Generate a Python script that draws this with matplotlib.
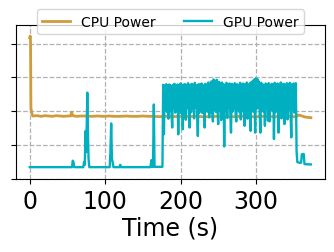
import matplotlib
matplotlib.use("Agg")
import matplotlib.pyplot as plt

# CPU power trace (time in s, power in W)
cpu_t = [0, 0.5, 1.0, 1.5, 2.5, 4, 10, 15, 20, 25, 30, 35, 40, 45, 50, 54,
         55.5, 57, 62, 68, 75, 82, 90, 97, 105, 112, 120, 128, 135, 143,
         150, 158, 165, 172, 180, 190, 200, 210, 220, 230, 240, 250, 260,
         270, 280, 290, 300, 310, 320, 330, 340, 348, 354, 356, 360, 365,
         369, 373]
cpu_w = [41.7, 42.2, 40.5, 21.0, 19.5, 18.6, 18.7, 18.5, 18.7, 18.6, 18.5,
         18.7, 18.6, 18.5, 18.6, 18.6, 19.7, 18.7, 18.5, 18.6, 18.6, 18.5,
         18.6, 18.5, 18.6, 18.5, 18.5, 18.6, 18.5, 18.5, 18.6, 18.5, 18.5,
         18.4, 18.5, 18.4, 18.5, 18.4, 18.5, 18.4, 18.4, 18.5, 18.4, 18.4,
         18.5, 18.4, 18.4, 18.5, 18.4, 18.4, 18.5, 18.4, 18.4, 18.9, 18.7,
         18.3, 18.2, 18.1]

# GPU power before the busy phase (sparse breakpoints)
gpu_idle_t = [0, 56, 57, 58, 59, 71, 72, 73, 74, 75, 76.3, 77.3, 78, 79,
              106, 107, 108, 109, 110, 111, 119, 120, 121, 160, 161.5,
              162.5, 163.5, 164.6, 165.5, 176]
gpu_idle_w = [3.5, 3.5, 5.4, 5.0, 3.5, 3.5, 5.0, 4.2, 14.2, 8.0, 25.5, 12.0,
              5.9, 3.5, 3.5, 8.0, 16.4, 6.0, 4.9, 3.5, 3.5, 4.2, 3.5, 3.5,
              5.6, 3.6, 3.6, 22.0, 3.6, 3.6]

# GPU power during the busy phase, one sample per second from t=177
gpu_busy_start = 177
gpu_busy_w = [
    27.8, 13.2, 27.6, 20.5, 28.0, 19.8, 27.6, 17.8, 27.9, 20.2,
    27.6, 19.5, 15.2, 27.8, 20.8, 28.1, 19.6, 27.6, 21.2, 27.9,
    13.2, 27.7, 20.1, 28.2, 19.4, 27.7, 14.7, 27.9, 20.6, 28.0,
    17.5, 27.7, 21.1, 28.3, 20.3, 15.2, 27.8, 19.7, 28.1, 20.9,
    27.7, 17.9, 28.4, 21.0, 27.7, 20.2, 12.7, 28.0, 19.6, 27.9,
    20.8, 28.2, 19.5, 27.7, 21.3, 15.2, 28.1, 20.0, 27.8, 19.9,
    28.5, 18.2, 27.9, 19.6, 28.8, 21.0, 17.0, 29.4, 20.4, 28.6,
    19.8, 29.3, 21.2, 16.2, 28.7, 20.1, 28.2, 17.4, 28.5, 20.9,
    28.0, 9.6, 27.8, 20.3, 28.4, 18.0, 27.9, 21.1, 28.2, 20.0,
    13.7, 28.1, 19.9, 27.7, 20.8, 28.3, 19.6, 17.0, 28.0, 20.5,
    27.7, 19.8, 28.4, 17.6, 27.9, 20.1, 28.2, 19.7, 15.7, 28.0,
    20.6, 28.5, 17.8, 27.8, 21.0, 28.3, 14.2, 28.6, 20.2, 29.0,
    19.8, 29.4, 13.7, 29.7, 20.7, 29.5, 21.1, 28.8, 19.6, 13.7,
    28.4, 20.3, 28.0, 19.9, 27.7, 15.7, 28.2, 20.8, 27.9, 17.2,
    28.3, 17.0, 27.7, 21.0, 28.1, 20.1, 27.8, 11.8, 28.4, 19.7,
    27.9, 20.9, 28.2, 13.7, 27.7, 20.4, 28.5, 17.9, 27.9, 21.3,
    28.1, 16.2, 27.7, 22.5, 28.3, 17.6, 27.8, 20.6, 28.4, 19.7,
    12.3, 28.0, 20.8, 28.2, 19.6, 27.9, 28.3,
]

# GPU power after the busy phase
gpu_tail_t = [354, 355, 358, 360, 361, 363.5, 364.5, 373]
gpu_tail_w = [8.3, 5.0, 4.8, 4.8, 7.3, 7.4, 4.4, 4.3]

gpu_t = (gpu_idle_t
         + [gpu_busy_start + i for i in range(len(gpu_busy_w))]
         + gpu_tail_t)
gpu_w = gpu_idle_w + gpu_busy_w + gpu_tail_w

fig = plt.figure(figsize=(3.34, 2.53), dpi=100)
ax = fig.add_axes([0.047, 0.2885, 0.926, 0.6105])

ax.plot(cpu_t, cpu_w, color='#D09B3B', lw=2.0, label='CPU Power')
ax.plot(gpu_t, gpu_w, color='#00B0C0', lw=1.7, label='GPU Power')

ax.set_xlim(-18.7, 391.7)
ax.set_ylim(0, 45.6)
ax.set_xticks([0, 100, 200, 300])
ax.set_yticks([0, 10, 20, 30, 40])
ax.set_yticklabels([])
ax.tick_params(axis='x', labelsize=17)
ax.set_xlabel('Time (s)', fontsize=17, labelpad=2)
ax.grid(True, linestyle='--', color='#b0b0b0', lw=0.9)

ax.legend(loc='upper center', bbox_to_anchor=(0.5, 1.10), ncol=2,
          fontsize=10, borderaxespad=0)

fig.savefig('out.png', dpi=100)
